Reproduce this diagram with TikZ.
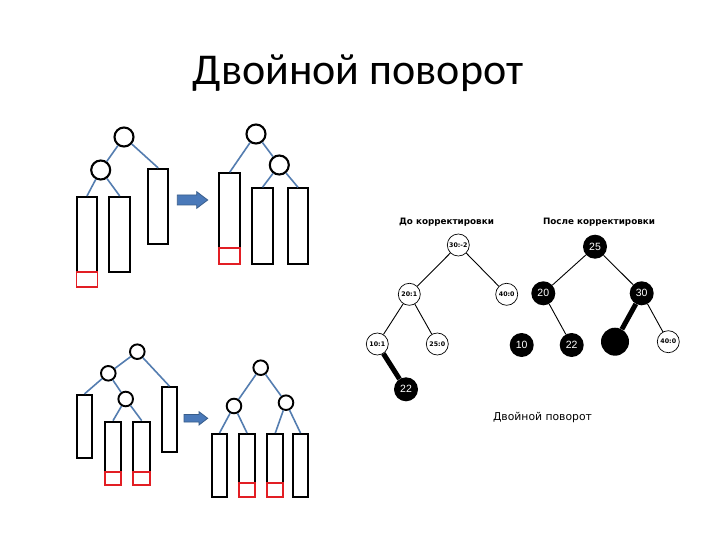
\documentclass[tikz,border=0pt]{standalone}
\usepackage{fontspec}
\setmainfont{Carlito}
\newfontfamily\djv{DejaVu Sans}
\newfontfamily\lib{Liberation Sans}
\definecolor{edgeblue}{RGB}{84,125,176}
\definecolor{arrfill}{RGB}{74,121,185}
\definecolor{arrline}{RGB}{56,93,138}
\definecolor{redbox}{RGB}{226,30,36}
\begin{document}
\begin{tikzpicture}[x=1pt,y=-1pt,
  circ/.style={circle, draw=black, line width=2.1pt, fill=white, minimum size=19pt, inner sep=0pt},
  scirc/.style={circ, minimum size=14.6pt, line width=1.9pt},
  blk/.style={rectangle, draw=black, line width=2.1pt, inner sep=0pt},
  redb/.style={rectangle, draw=redbox, line width=1.8pt, inner sep=0pt},
  bedge/.style={draw=edgeblue, line width=1.6pt},
  barrow/.style={fill=arrfill, draw=arrline, line width=0.8pt, line join=miter},
  wnode/.style={circle, draw=black, line width=0.7pt, fill=white, minimum size=22pt, inner sep=0pt, font=\djv\bfseries\fontsize{6.3}{7}\selectfont},
  bnode/.style={circle, fill=black, minimum size=24pt, inner sep=0pt, text=white, font=\lib\fontsize{10.5}{12}\selectfont},
  tedge/.style={draw=black, line width=0.9pt},
  thedge/.style={draw=black, line width=5pt},
  hdr/.style={font=\djv\bfseries\fontsize{8.8}{10}\selectfont, inner sep=0pt}
]
\fill[white] (0,0) rectangle (720,540);
\useasboundingbox (0,0) rectangle (720,540);

% title
\node[font=\fontsize{44}{50}\selectfont, anchor=base, inner sep=0pt] (title) at (358,85) {Двойной поворот};

% ---------- tree 1 ----------
\node[circ] (t1r) at (124,137) {};
\node[circ] (t1c) at (100.7,170) {};
\node[blk, minimum width=20pt, minimum height=75pt] (t1a) at (87,234.5) {};
\node[redb, minimum width=21pt, minimum height=15pt] (t1ar) at (87,279.5) {};
\node[blk, minimum width=20.7pt, minimum height=75pt] (t1b) at (119.7,234.5) {};
\node[blk, minimum width=20.3pt, minimum height=75pt] (t1d) at (158.2,206.5) {};
\draw[bedge] (t1r) -- (t1c);
\draw[bedge] (t1r) -- (t1d.north);
\draw[bedge] (t1c) -- (t1a.north);
\draw[bedge] (t1c) -- (t1b.north);

% arrow 1
\draw[barrow] (177.3,195) -- (196.7,195) -- (196.7,191.7) -- (207.7,200) -- (196.7,208.3) -- (196.7,205) -- (177.3,205) -- cycle;

% ---------- tree 2 ----------
\node[circ] (t2r) at (256,134) {};
\node[circ] (t2c) at (279.3,165) {};
\node[blk, minimum width=21pt, minimum height=75pt] (t2a) at (229.7,210.8) {};
\node[redb, minimum width=21pt, minimum height=15.7pt] (t2ar) at (229.7,256.2) {};
\node[blk, minimum width=21.6pt, minimum height=75.7pt] (t2b) at (262.5,226.2) {};
\node[blk, minimum width=20.6pt, minimum height=75.7pt] (t2d) at (298,226.2) {};
\draw[bedge] (t2r) -- (t2a.north);
\draw[bedge] (t2r) -- (t2c);
\draw[bedge] (t2c) -- (t2b.north);
\draw[bedge] (t2c) -- (t2d.north);

% ---------- tree 3 ----------
\node[scirc] (t3r) at (137.3,351.7) {};
\node[scirc] (t3a) at (108.3,373.3) {};
\node[scirc] (t3b) at (125.7,399) {};
\node[blk, minimum width=15.6pt, minimum height=62.7pt] (t3r1) at (84.5,426.3) {};
\node[blk, minimum width=16pt, minimum height=50pt] (t3r2) at (113,446.7) {};
\node[redb, minimum width=16pt, minimum height=13.3pt] (t3r2r) at (113,478.3) {};
\node[blk, minimum width=16.7pt, minimum height=50pt] (t3r3) at (141.7,446.7) {};
\node[redb, minimum width=16.7pt, minimum height=13.3pt] (t3r3r) at (141.7,478.3) {};
\node[blk, minimum width=15.6pt, minimum height=64.4pt] (t3r4) at (169.5,419.5) {};
\draw[bedge] (t3r) -- (t3a);
\draw[bedge] (t3r) -- (t3r4.north);
\draw[bedge] (t3a) -- (t3r1.north);
\draw[bedge] (t3a) -- (t3b);
\draw[bedge] (t3b) -- (t3r2.north);
\draw[bedge] (t3b) -- (t3r3.north);

% arrow 2
\draw[barrow] (184,414.5) -- (199,414.5) -- (199,411.7) -- (207.7,418.3) -- (199,425) -- (199,422) -- (184,422) -- cycle;

% ---------- tree 4 ----------
\node[scirc] (t4r) at (260.7,367.7) {};
\node[scirc] (t4a) at (234,406) {};
\node[scirc] (t4b) at (286,402.7) {};
\node[blk, minimum width=15.6pt, minimum height=63.3pt] (t4r1) at (219.5,465.7) {};
\node[blk, minimum width=16pt, minimum height=49.3pt] (t4r2) at (247,458.7) {};
\node[redb, minimum width=16pt, minimum height=14pt] (t4r2r) at (247,490.3) {};
\node[blk, minimum width=16pt, minimum height=49.3pt] (t4r3) at (275.3,458.7) {};
\node[redb, minimum width=16pt, minimum height=14pt] (t4r3r) at (275.3,490.3) {};
\node[blk, minimum width=15.6pt, minimum height=63.3pt] (t4r4) at (300.5,465.7) {};
\draw[bedge] (t4r) -- (t4a);
\draw[bedge] (t4r) -- (t4b);
\draw[bedge] (t4a) -- (t4r1.north);
\draw[bedge] (t4a) -- (t4r2.north);
\draw[bedge] (t4b) -- (t4r3.north);
\draw[bedge] (t4b) -- (t4r4.north);

% ---------- right picture ----------
\node[hdr] (hbefore) at (446.5,222.7) {До корректировки};
\node[hdr] (hafter) at (599,222.7) {После корректировки};

\node[wnode] (b30) at (458.3,245) {30:-2};
\node[wnode] (b20) at (409.3,294.3) {20:1};
\node[wnode] (b40) at (506.7,294.3) {40:0};
\node[wnode] (b10) at (377.3,344) {10:1};
\node[wnode] (b25) at (437.3,344) {25:0};
\node[bnode] (b22) at (406,389.3) {22};
\draw[tedge] (b30) -- (b20);
\draw[tedge] (b30) -- (b40);
\draw[tedge] (b20) -- (b10);
\draw[tedge] (b20) -- (b25);
\draw[thedge] (b10) -- (b22);

\node[bnode] (a25) at (595,246.7) {25};
\node[bnode] (a20) at (543.3,293.3) {20};
\node[bnode] (a30) at (641.7,293.3) {30};
\node[bnode] (a10) at (521.7,345) {10};
\node[bnode] (a22) at (571.7,345) {22};
\node[bnode, minimum size=28pt] (ablk) at (615,341.7) {};
\node[wnode] (a40) at (668.3,341.7) {40:0};
\draw[tedge] (a25) -- (a20);
\draw[tedge] (a25) -- (a30);
\draw[tedge] (a20) -- (a22);
\draw[thedge] (a30) -- (ablk);
\draw[tedge] (a30) -- (a40);

\node[font=\djv\fontsize{10.8}{12}\selectfont, inner sep=0pt] (cap) at (542.5,418) {Двойной поворот};
\end{tikzpicture}
\end{document}
